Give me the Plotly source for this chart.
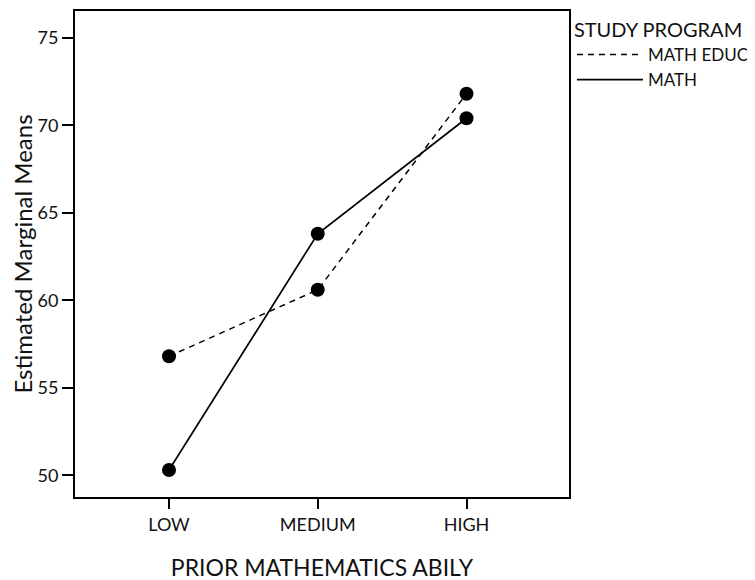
import plotly.graph_objects as go

categories = ["LOW", "MEDIUM", "HIGH"]
math_educ = [56.8, 60.6, 71.8]
math = [50.3, 63.8, 70.4]
series_names = ["MATH EDUC", "MATH"]
y_ticks = [50, 55, 60, 65, 70, 75]

FONT = "Lato, Liberation Sans, sans-serif"

fig = go.Figure()
# lines (shown in legend)
fig.add_trace(go.Scatter(x=[0, 1, 2], y=math_educ, mode="lines", name=series_names[0],
                         line=dict(color="black", width=1.5, dash="6px,5px")))
fig.add_trace(go.Scatter(x=[0, 1, 2], y=math, mode="lines", name=series_names[1],
                         line=dict(color="black", width=1.7)))
# markers
for ys in (math_educ, math):
    fig.add_trace(go.Scatter(x=[0, 1, 2], y=ys, mode="markers", showlegend=False,
                             marker=dict(color="black", size=14)))

fig.update_layout(
    width=755, height=580,
    margin=dict(l=67, r=194, t=1, b=91),
    plot_bgcolor="white", paper_bgcolor="white",
    font=dict(family=FONT, color="#111111", size=18),
    legend=dict(x=1.006, y=1.0, xanchor="left", yanchor="top", xref="paper", yref="paper",
                title=dict(text="STUDY PROGRAM", font=dict(size=20)),
                font=dict(size=17), itemwidth=66,
                bgcolor="rgba(0,0,0,0)"),
    showlegend=True,
)
fig.update_xaxes(
    range=[-0.632, 2.689], tickmode="array", tickvals=[0, 1, 2], ticktext=categories,
    showline=True, linecolor="black", linewidth=2, mirror=True,
    ticks="outside", ticklen=10, tickwidth=2, tickcolor="black",
    showgrid=False, zeroline=False,
    title=dict(text="PRIOR MATHEMATICS ABILY", font=dict(size=23), standoff=26),
    tickfont=dict(size=18),
)
fig.update_yaxes(
    range=[48.76, 76.53], tickmode="array", tickvals=y_ticks,
    showline=True, linecolor="black", linewidth=2, mirror=True,
    ticks="outside", ticklen=11, tickwidth=2, tickcolor="black",
    showgrid=False, zeroline=False,
    title=dict(text="Estimated Marginal Means", font=dict(size=24), standoff=6),
    tickfont=dict(size=18),
)

fig.write_html("out.html")
